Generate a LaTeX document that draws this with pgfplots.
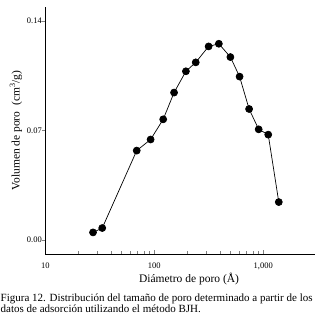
\documentclass[border=0pt]{standalone}
\usepackage{fontspec}
\setmainfont{Liberation Serif}
\usepackage{pgfplots}
\pgfplotsset{compat=1.18}
\begin{document}
\begin{tikzpicture}
\useasboundingbox (0,0) rectangle (323bp,318bp);
\begin{axis}[
  at={(45.3bp,64bp)}, anchor=south west,
  scale only axis, width=270bp, height=247bp,
  xmode=log, xmin=10, xmax=3000,
  ymin=-0.0089, ymax=0.149,
  axis lines*=left,
  axis line style={line width=0.8pt},
  tick align=inside,
  major tick length=3.5bp, minor tick length=3bp,
  y tick style={xshift=-3.5bp},
  xtick={10,100,1000},
  xticklabels={10,100,{1,000}},
  ytick={0,0.07,0.14},
  yticklabels={0.00,0.07,0.14},
  /pgf/number format/assume math mode=true,
  tick label style={font=\fontsize{8.5bp}{10bp}\selectfont},
  xticklabel style={anchor=base, yshift=-14.3bp},
  label style={font=\fontsize{11.5bp}{13bp}\selectfont},
  xlabel={Diámetro de poro (Å)},
  ylabel={Volumen de poro\ \ (cm\textsuperscript{3}/g)},
  xlabel style={at={(axis description cs:0,0)}, anchor=base, xshift=143.7bp, yshift=-28.7bp},
  ylabel style={yshift=-2bp},
  clip=false,
]
\addplot[black, line width=0.7pt, mark=*, mark size=3.5bp, mark options={fill=black}] coordinates {
(27.4,0.0049) (33.3,0.0077) (69,0.0572) (92.5,0.0643) (120.7,0.0772)
(151.8,0.0943) (195,0.1079) (240,0.1136) (315,0.1238) (391,0.1255)
(499,0.1170) (606,0.1045) (741,0.0838) (907,0.0708) (1110,0.0674) (1387,0.0243)
};
\end{axis}
\node[anchor=base west, inner sep=0pt, font=\fontsize{11bp}{13bp}\selectfont] at (0.5bp,16.3bp) {Figura 12. Distribución del tamaño de poro determinado a partir de los};
\node[anchor=base west, inner sep=0pt, font=\fontsize{11bp}{13bp}\selectfont] at (0.5bp,5.5bp) {datos de adsorción utilizando el método BJH.};
\end{tikzpicture}
\end{document}
